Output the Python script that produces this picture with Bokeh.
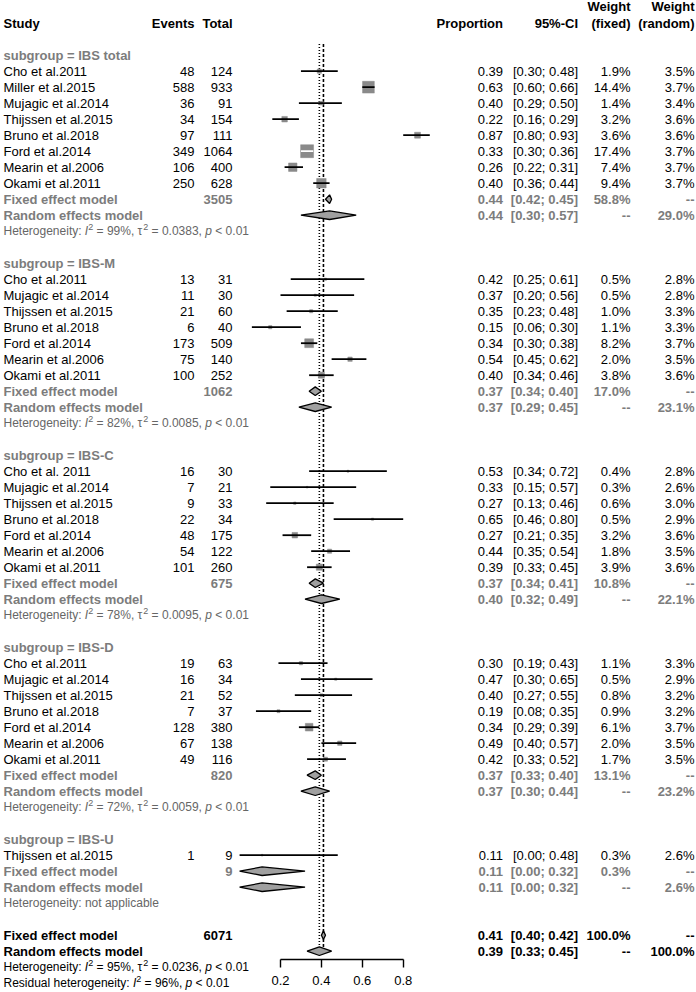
import math
from bokeh.plotting import figure
from bokeh.models import ColumnDataSource, LinearAxis, FixedTicker, Range1d
from bokeh.core.properties import value
from bokeh.embed import file_html
from bokeh.resources import INLINE

# ---------------- data ----------------
subgroups = ["IBS total", "IBS-M", "IBS-C", "IBS-D", "IBS-U"]

studies_total = ["Cho et al.2011", "Miller et al.2015", "Mujagic et al.2014", "Thijssen et al.2015",
                 "Bruno et al.2018", "Ford et al.2014", "Mearin et al.2006", "Okami et al.2011"]
events_total = [48, 588, 36, 34, 97, 349, 106, 250]
n_total = [124, 933, 91, 154, 111, 1064, 400, 628]
prop_total = [0.39, 0.63, 0.40, 0.22, 0.87, 0.33, 0.26, 0.40]
lower_total = [0.30, 0.60, 0.29, 0.16, 0.80, 0.30, 0.22, 0.36]
upper_total = [0.48, 0.66, 0.50, 0.29, 0.93, 0.36, 0.31, 0.44]
wfix_total = [1.9, 14.4, 1.4, 3.2, 3.6, 17.4, 7.4, 9.4]
wran_total = [3.5, 3.7, 3.4, 3.6, 3.6, 3.7, 3.7, 3.7]

studies_m = ["Cho et al.2011", "Mujagic et al.2014", "Thijssen et al.2015", "Bruno et al.2018",
             "Ford et al.2014", "Mearin et al.2006", "Okami et al.2011"]
events_m = [13, 11, 21, 6, 173, 75, 100]
n_m = [31, 30, 60, 40, 509, 140, 252]
prop_m = [0.42, 0.37, 0.35, 0.15, 0.34, 0.54, 0.40]
lower_m = [0.25, 0.20, 0.23, 0.06, 0.30, 0.45, 0.34]
upper_m = [0.61, 0.56, 0.48, 0.30, 0.38, 0.62, 0.46]
wfix_m = [0.5, 0.5, 1.0, 1.1, 8.2, 2.0, 3.8]
wran_m = [2.8, 2.8, 3.3, 3.3, 3.7, 3.5, 3.6]

studies_c = ["Cho et al. 2011", "Mujagic et al.2014", "Thijssen et al.2015", "Bruno et al.2018",
             "Ford et al.2014", "Mearin et al.2006", "Okami et al.2011"]
events_c = [16, 7, 9, 22, 48, 54, 101]
n_c = [30, 21, 33, 34, 175, 122, 260]
prop_c = [0.53, 0.33, 0.27, 0.65, 0.27, 0.44, 0.39]
lower_c = [0.34, 0.15, 0.13, 0.46, 0.21, 0.35, 0.33]
upper_c = [0.72, 0.57, 0.46, 0.80, 0.35, 0.54, 0.45]
wfix_c = [0.4, 0.3, 0.6, 0.5, 3.2, 1.8, 3.9]
wran_c = [2.8, 2.6, 3.0, 2.9, 3.6, 3.5, 3.6]

studies_d = ["Cho et al.2011", "Mujagic et al.2014", "Thijssen et al.2015", "Bruno et al.2018",
             "Ford et al.2014", "Mearin et al.2006", "Okami et al.2011"]
events_d = [19, 16, 21, 7, 128, 67, 49]
n_d = [63, 34, 52, 37, 380, 138, 116]
prop_d = [0.30, 0.47, 0.40, 0.19, 0.34, 0.49, 0.42]
lower_d = [0.19, 0.30, 0.27, 0.08, 0.29, 0.40, 0.33]
upper_d = [0.43, 0.65, 0.55, 0.35, 0.39, 0.57, 0.52]
wfix_d = [1.1, 0.5, 0.8, 0.9, 6.1, 2.0, 1.7]
wran_d = [3.3, 2.9, 3.2, 3.2, 3.7, 3.5, 3.5]

studies_u = ["Thijssen et al.2015"]
events_u = [1]
n_u = [9]
prop_u = [0.11]
lower_u = [0.00]
upper_u = [0.48]
wfix_u = [0.3]
wran_u = [2.6]

# subgroup pooled results
fixed_n = [3505, 1062, 675, 820, 9]
fixed_est = [0.44, 0.37, 0.37, 0.37, 0.11]
fixed_lo = [0.42, 0.34, 0.34, 0.33, 0.00]
fixed_hi = [0.45, 0.40, 0.41, 0.40, 0.32]
fixed_w = [58.8, 17.0, 10.8, 13.1, 0.3]
random_est = [0.44, 0.37, 0.40, 0.37, 0.11]
random_lo = [0.30, 0.29, 0.32, 0.30, 0.00]
random_hi = [0.57, 0.45, 0.49, 0.44, 0.32]
random_w = [29.0, 23.1, 22.1, 23.2, 2.6]
het_i2 = ["99%", "82%", "78%", "72%", None]
het_tau2 = ["0.0383", "0.0085", "0.0095", "0.0059", None]

# overall pooled results
overall_n = 6071
overall_fixed = [0.41, 0.40, 0.42]
overall_random = [0.39, 0.33, 0.45]
overall_i2 = "95%"
overall_tau2 = "0.0236"
residual_i2 = "96%"
het_p = "0.01"

x_ticks = [0.2, 0.4, 0.6, 0.8]

groups = [
    (studies_total, events_total, n_total, prop_total, lower_total, upper_total, wfix_total, wran_total),
    (studies_m, events_m, n_m, prop_m, lower_m, upper_m, wfix_m, wran_m),
    (studies_c, events_c, n_c, prop_c, lower_c, upper_c, wfix_c, wran_c),
    (studies_d, events_d, n_d, prop_d, lower_d, upper_d, wfix_d, wran_d),
    (studies_u, events_u, n_u, prop_u, lower_u, upper_u, wfix_u, wran_u),
]

# ---------------- layout ----------------
W, H = 696, 992
FX0, FS = 239.1, 204.5   # canvas x of proportion 0 and px per unit proportion
Y0, S = 22.7, 16.0       # canvas y of row 0 and px per row
FONT = "Liberation Sans"
GREY = "#7c7c7c"
HETGREY = "#666666"
SQ_FILL = "#8a8a8a"
DIA_FILL = "#a0a0a0"

def vx(px):
    return (px - FX0) / FS

X_STUDY, X_EV, X_TOT = 3, 194, 232
X_PROP, X_CI, X_WF, X_WR = 502.5, 577.5, 630, 694

ARIAL = {' ': 278, '%': 889, ',': 278, '.': 278, ':': 278, '<': 584, '=': 584, 'H': 722, 'I': 278,
         'R': 722, 'a': 556, 'b': 556, 'c': 500, 'd': 556, 'e': 556, 'g': 556, 'h': 556, 'i': 222,
         'l': 222, 'n': 556, 'o': 556, 'p': 556, 'r': 333, 's': 500, 't': 278, 'u': 556, 'y': 500,
         '\u03c4': 470}

def tw(s, size):
    return sum(ARIAL.get(c, 556) for c in s) * size / 1000.0

txt = dict(x=[], y=[], text=[], align=[], color=[], style=[], size=[], xoff=[], yoff=[])

def T(px, r, s, align="left", color="black", style="normal", size="13px", xoff=0.0, yoff=0.0):
    txt["x"].append(vx(px)); txt["y"].append(r); txt["text"].append(s)
    txt["align"].append(align); txt["color"].append(color); txt["style"].append(style)
    txt["size"].append(size); txt["xoff"].append(xoff); txt["yoff"].append(yoff)

def het_line(r, parts, color):
    # parts: (text, kind) with kind in {"n", "it", "sup"}
    off = 0.0
    for s, kind in parts:
        fs = 9 if kind == "sup" else 12
        stripped = s.lstrip(" ")
        lead = tw(s[:len(s) - len(stripped)], fs)
        T(X_STUDY, r, stripped.rstrip(" "), color=color,
          style="italic" if kind == "it" else "normal",
          size=f"{fs}px", xoff=off + lead, yoff=-4.5 if kind == "sup" else 0.0)
        off += tw(s, fs)

def het_parts(i2, tau2):
    parts = [("Heterogeneity: ", "n"), ("I", "it"), ("2", "sup"), (f" = {i2}, \u03c4", "n")]
    if tau2 is not None:
        parts += [("2", "sup"), (f" = {tau2}, ", "n")]
    parts += [("p", "it"), (f" < {het_p}", "n")]
    return parts

sq = dict(x=[], y=[], size=[])
ci = dict(x0=[], x1=[], y=[], color=[])
dia = dict(xs=[], ys=[])
DH = 4.3 / S  # diamond half height in rows

def diamond(est, lo, hi, r):
    dia["xs"].append([lo, est, hi, est])
    dia["ys"].append([r, r - DH, r, r + DH])

def fmt_ci(lo, hi):
    return f"[{lo:.2f}; {hi:.2f}]"

# header
T(X_WF, -1.07, "Weight", "right", style="bold")
T(X_WR, -1.07, "Weight", "right", style="bold")
T(X_STUDY, 0, "Study", style="bold")
T(X_EV, 0, "Events", "right", style="bold")
T(X_TOT, 0, "Total", "right", style="bold")
T(X_PROP, 0, "Proportion", "right", style="bold")
T(X_CI, 0, "95%-CI", "right", style="bold")
T(X_WF, 0, "(fixed)", "right", style="bold")
T(X_WR, 0, "(random)", "right", style="bold")

r = 2
for g, name in enumerate(subgroups):
    st, ev, nn, pr, lo, hi, wf, wr = groups[g]
    T(X_STUDY, r, f"subgroup = {name}", color=GREY, style="bold")
    r += 1
    for i in range(len(st)):
        T(X_STUDY, r, st[i])
        T(X_EV, r, str(ev[i]), "right")
        T(X_TOT, r, str(nn[i]), "right")
        T(X_PROP, r, f"{pr[i]:.2f}", "right")
        T(X_CI, r, fmt_ci(lo[i], hi[i]), "right")
        T(X_WF, r, f"{wf[i]:.1f}%", "right")
        T(X_WR, r, f"{wr[i]:.1f}%", "right")
        size = 3.1 * math.sqrt(wf[i])
        sq["x"].append(pr[i]); sq["y"].append(r); sq["size"].append(size)
        ci["x0"].append(lo[i]); ci["x1"].append(hi[i]); ci["y"].append(r)
        ci["color"].append("white" if (hi[i] - lo[i]) * FS < size else "black")
        r += 1
    # fixed
    T(X_STUDY, r, "Fixed effect model", color=GREY, style="bold")
    T(X_TOT, r, str(fixed_n[g]), "right", color=GREY, style="bold")
    T(X_PROP, r, f"{fixed_est[g]:.2f}", "right", color=GREY, style="bold")
    T(X_CI, r, fmt_ci(fixed_lo[g], fixed_hi[g]), "right", color=GREY, style="bold")
    T(X_WF, r, f"{fixed_w[g]:.1f}%", "right", color=GREY, style="bold")
    T(X_WR, r, "--", "right", color=GREY, style="bold")
    diamond(fixed_est[g], fixed_lo[g], fixed_hi[g], r)
    r += 1
    # random
    T(X_STUDY, r, "Random effects model", color=GREY, style="bold")
    T(X_PROP, r, f"{random_est[g]:.2f}", "right", color=GREY, style="bold")
    T(X_CI, r, fmt_ci(random_lo[g], random_hi[g]), "right", color=GREY, style="bold")
    T(X_WF, r, "--", "right", color=GREY, style="bold")
    T(X_WR, r, f"{random_w[g]:.1f}%", "right", color=GREY, style="bold")
    diamond(random_est[g], random_lo[g], random_hi[g], r)
    r += 1
    if het_i2[g] is None:
        het_line(r, [("Heterogeneity: not applicable", "n")], HETGREY)
    else:
        het_line(r, het_parts(het_i2[g], het_tau2[g]), HETGREY)
    r += 2

# overall
T(X_STUDY, r, "Fixed effect model", style="bold")
T(X_TOT, r, str(overall_n), "right", style="bold")
T(X_PROP, r, f"{overall_fixed[0]:.2f}", "right", style="bold")
T(X_CI, r, fmt_ci(overall_fixed[1], overall_fixed[2]), "right", style="bold")
T(X_WF, r, "100.0%", "right", style="bold")
T(X_WR, r, "--", "right", style="bold")
diamond(overall_fixed[0], overall_fixed[1], overall_fixed[2], r)
r += 1
r_ran = r
T(X_STUDY, r, "Random effects model", style="bold")
T(X_PROP, r, f"{overall_random[0]:.2f}", "right", style="bold")
T(X_CI, r, fmt_ci(overall_random[1], overall_random[2]), "right", style="bold")
T(X_WF, r, "--", "right", style="bold")
T(X_WR, r, "100.0%", "right", style="bold")
diamond(overall_random[0], overall_random[1], overall_random[2], r)
r += 1
het_line(r, het_parts(overall_i2, overall_tau2), "black")
r += 1
het_line(r, [("Residual heterogeneity: ", "n"), ("I", "it"), ("2", "sup"),
             (f" = {residual_i2}, ", "n"), ("p", "it"), (f" < {het_p}", "n")], "black")

# ---------------- figure ----------------
p = figure(width=W, height=H, output_backend="svg", toolbar_location=None,
           x_range=Range1d(vx(0), vx(W)),
           y_range=Range1d((H - Y0) / S, -Y0 / S),
           x_axis_type=None, y_axis_type=None, min_border=0,
           outline_line_color=None, background_fill_color="white", border_fill_color="white")
p.grid.visible = False

# reference lines (random: dotted, fixed: dashed)
p.segment(x0=[overall_random[0]], y0=[1.3], x1=[overall_random[0]], y1=[r_ran],
          line_color="black", line_width=1.6, line_dash="1 2")
p.segment(x0=[overall_fixed[0]], y0=[1.3], x1=[overall_fixed[0]], y1=[r_ran],
          line_color="black", line_width=1.6, line_dash="3 2")

p.scatter("x", "y", size="size", marker="square", source=ColumnDataSource(sq),
          fill_color=SQ_FILL, line_color=SQ_FILL, line_width=0.5)
p.segment(x0="x0", y0="y", x1="x1", y1="y", line_color="color", line_width=1.8,
          source=ColumnDataSource(ci))
p.patches("xs", "ys", source=ColumnDataSource(dia), fill_color=DIA_FILL,
          line_color="black", line_width=1.3)

p.text("x", "y", text="text", source=ColumnDataSource(txt), text_align="align",
       text_color="color", text_font_style="style", text_font_size="size",
       x_offset="xoff", y_offset="yoff", text_baseline="middle", text_font=value(FONT))

ax = LinearAxis(ticker=FixedTicker(ticks=x_ticks), bounds=(x_ticks[0], x_ticks[-1]),
                fixed_location=58.5)
ax.axis_line_width = 1.4
ax.major_tick_line_width = 1.4
ax.major_tick_in = 0
ax.major_tick_out = 8
ax.minor_tick_in = 0
ax.minor_tick_out = 0
ax.major_label_standoff = 9
ax.major_label_text_font = FONT
ax.major_label_text_font_size = "13px"
ax.major_label_text_color = "black"
p.add_layout(ax, "below")

open("out.html", "w").write(file_html(p, INLINE))
